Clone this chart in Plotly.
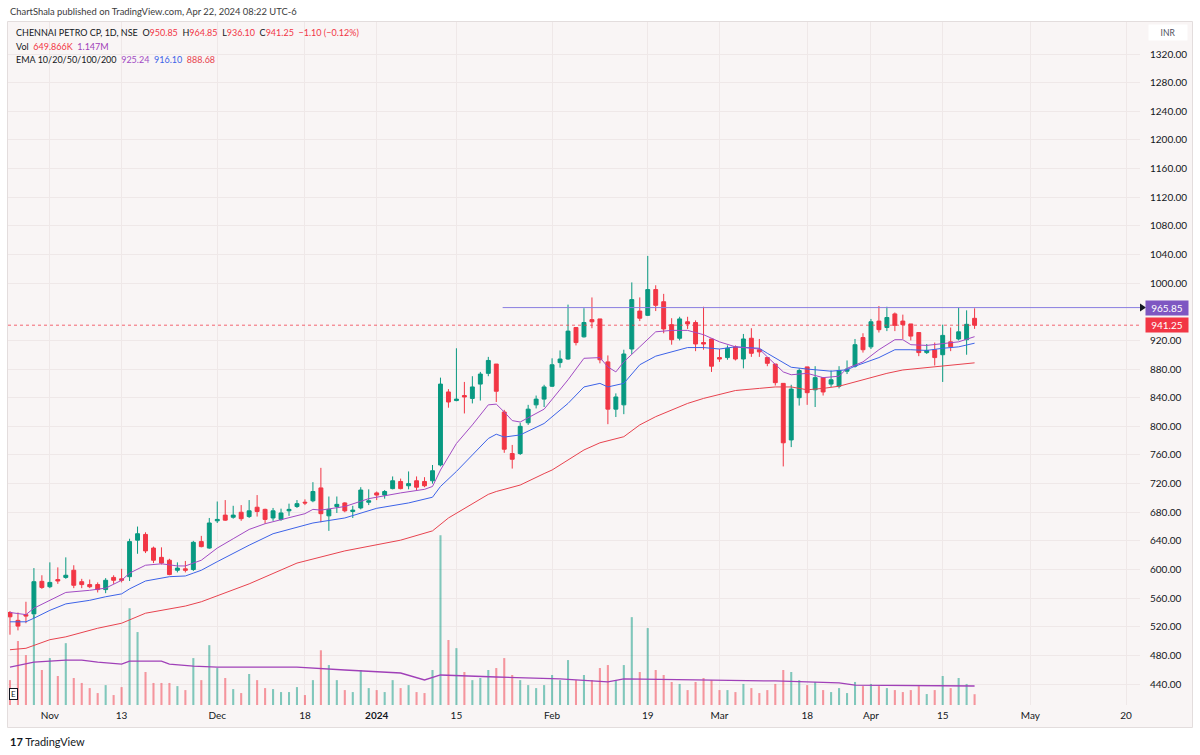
import numpy as np
import pandas as pd
import plotly.graph_objects as go

# ---------------- data ----------------
first_day, last_day = "2023-10-25", "2024-04-22"
holidays = ["2023-11-14", "2023-11-27", "2023-12-25", "2024-01-22", "2024-01-26",
            "2024-03-08", "2024-03-25", "2024-03-29", "2024-04-11", "2024-04-17", "2024-05-01"]
special_sessions = ["2023-11-12", "2024-01-20", "2024-03-02"]

opens = [540, 529, 537, 538, 583.5, 576, 586, 589, 599, 583, 579, 579, 572, 589, 587, 590, 641, 649, 630, 617,
         613, 599, 601, 600, 639, 630, 668, 676, 673, 680, 674, 687, 684, 672, 670, 682, 688, 694, 696, 714,
         675, 688, 693, 681, 686, 694, 707, 704, 713, 723, 717, 724, 723, 724, 746, 848, 836, 843, 839, 859,
         874, 887, 820, 762, 762, 805, 830, 838, 856, 889, 894, 938, 925, 949, 950, 890, 824, 830, 908, 961,
         955, 991, 974, 942, 923, 946, 945, 917, 922, 896, 896, 911, 894, 923, 907, 896, 887, 860, 781, 840,
         883, 851, 868, 859, 856, 877, 884, 924, 911, 947, 938, 957, 947, 943, 931, 903, 907, 900, 918, 922,
         921, 950.85]
highs = [542, 540, 555, 602, 592, 610, 603, 617, 606, 587, 586, 582, 588, 592, 601, 643, 660, 652, 632, 631,
         615, 610, 612, 640, 647, 672, 695, 697, 689, 690, 697, 704, 685, 686, 685, 692, 697, 698, 722, 742,
         702, 702, 694, 689, 715, 712, 709, 711, 730, 727, 737, 730, 729, 746, 868, 852, 909, 862, 870, 876,
         897, 887, 823, 774, 805, 830, 843, 858, 895, 906, 970, 938, 965, 980, 950, 899, 846, 907, 1001, 980,
         1038, 997, 985, 951, 953, 953, 948, 967, 922, 908, 913, 913, 929, 937, 922, 896, 887, 860, 858, 881,
         883, 884, 868, 878, 884, 892, 922, 930, 950, 968, 967, 959, 956, 943, 931, 915, 917, 942, 938, 966,
         962, 964.85]
lows = [509, 515, 525, 532, 573, 574, 580, 587, 574, 574, 574, 568, 567, 580, 582, 584, 622, 623, 609, 607,
        592, 596, 596, 598, 631, 629, 665, 668, 671, 668, 672, 674, 664, 668, 668, 675, 686, 690, 694, 666,
        654, 679, 680, 672, 684, 690, 697, 699, 712, 712, 712, 711, 715, 720, 744, 826, 835, 818, 832, 836,
        870, 834, 763, 741, 760, 802, 825, 827, 855, 882, 893, 913, 924, 937, 888, 803, 813, 817, 901, 947,
        954, 961, 930, 914, 920, 936, 905, 907, 876, 890, 893, 892, 881, 897, 897, 884, 857, 744, 771, 829,
        830, 827, 843, 855, 853, 873, 882, 903, 908, 931, 933, 933, 922, 920, 898, 901, 885, 862, 905, 920,
        900, 936.10]
closes = [534, 521, 535, 583, 575, 582, 584, 592, 578, 579, 576, 572, 585, 585, 585, 639, 650, 626, 613, 609,
          593, 602, 599, 638, 632, 665, 670, 669, 676, 671, 682, 681, 670, 682, 679, 684, 692, 693, 709, 678,
          684, 691, 682, 683, 711, 696, 704, 709, 724, 713, 720, 715, 717, 738, 859, 834, 838, 841, 855, 873,
          892, 849, 768, 754, 800, 824, 838, 855, 886, 894, 933, 917, 945, 946, 893, 824, 841, 901, 977, 951,
          991, 969, 936, 921, 950, 943, 915, 915, 884, 894, 909, 894, 922, 902, 904, 888, 861, 777, 852, 878,
          847, 868, 848, 865, 878, 880, 914, 907, 946, 935, 952, 941, 942, 926, 903, 906, 896, 927, 911, 932,
          942.5, 941.25]
volumes_m = [1.5, 3.86, 3.01, 5.42, 2.11, 2.83, 1.75, 3.73, 1.63, 1.33,
             1.02, 0.72, 1.2, 0.6, 1.08, 5.84, 4.4, 1.99, 1.33, 1.33,
             1.33, 1.14, 0.9, 2.83, 1.5, 3.61, 2.23, 1.63, 0.96, 0.72,
             1.87, 1.5, 1.02, 0.96, 0.78, 0.78, 1.08, 0.6, 1.5, 3.3,
             2.41, 1.5, 0.9, 0.78, 2.11, 1.02, 0.9, 0.78, 1.5, 1.02,
             1.2, 0.78, 0.72, 2.11, 10.24, 3.92, 3.43, 1.99, 1.5, 1.63,
             2.11, 2.23, 2.83, 1.81, 1.5, 1.2, 1.02, 1.2, 1.81, 1.5,
             2.71, 1.5, 1.81, 1.5, 2.23, 2.41, 1.5, 2.41, 5.3, 1.99,
             4.64, 2.11, 1.81, 1.39, 1.27, 0.9, 1.39, 1.63, 1.5, 0.9,
             0.9, 0.78, 1.27, 1.02, 0.72, 0.9, 1.27, 2.11, 1.99, 1.5,
             1.2, 1.39, 0.9, 0.78, 1.02, 0.72, 1.39, 1.14, 1.27, 1.14,
             1.02, 0.9, 0.78, 0.9, 1.14, 0.66, 0.9, 1.75, 1.02, 1.63,
             1.27, 0.65]

# indicator lines (bar number, value)
ema10_bars = [0, 2, 3, 5, 7, 10, 12, 14, 15, 17, 19, 21, 22, 24, 26, 28, 30, 32, 37, 38, 39, 42, 45, 49, 52, 53,
              54, 56, 58, 60, 61, 62, 63, 64, 67, 70, 72, 74, 75, 76, 77, 79, 81, 83, 85, 87, 89, 91, 94, 95,
              97, 98, 100, 102, 104, 105, 107, 109, 111, 112, 113, 115, 117, 119, 121]
ema10_vals = [540, 537, 546, 557, 568, 571, 574, 585, 595, 606, 608, 605, 605, 613, 630, 643, 656, 664, 678, 684,
              683, 688, 699, 707, 712, 716, 739, 776, 802, 830, 831, 820, 808, 806, 824, 865, 895, 896, 883, 876,
              890, 911, 932, 934, 934, 928, 918, 911, 908, 897, 876, 872, 874, 868, 870, 881, 890, 907, 921, 921,
              914, 913, 916, 918, 925.24]
ema20_bars = [0, 2, 3, 5, 7, 10, 12, 14, 15, 17, 20, 22, 23, 24, 26, 28, 30, 33, 38, 42, 46, 50, 53, 54, 56, 58,
              60, 61, 62, 64, 67, 70, 72, 74, 75, 77, 79, 81, 83, 85, 87, 89, 91, 94, 95, 97, 98, 100, 103, 105,
              106, 109, 111, 113, 115, 117, 119, 121]
ema20_vals = [527, 527, 532, 543, 552, 557, 562, 566, 573, 584, 590, 591, 595, 599, 611, 623, 634, 650, 665, 672,
              685.5, 693, 701, 716, 737, 760, 783, 789, 785, 788, 804, 832, 855, 860, 855, 860, 886, 898, 904, 910,
              910, 908, 911, 909, 902, 889, 882.5, 880, 877, 879, 884, 896, 907, 907, 906, 909, 911, 916.10]
ema50_bars = [0, 2, 5, 7, 11, 14, 17, 22, 24, 28, 30, 36, 42, 49, 53, 55, 60, 61, 64, 67, 68, 72, 74, 77, 79, 81,
              83, 85, 87, 89, 91, 94, 96, 98, 100, 102, 104, 106, 108, 110, 112, 114, 116, 118, 121]
ema50_vals = [488, 490, 502, 506, 518, 525, 539, 549, 555, 571, 580, 609, 626, 641, 654, 672, 705, 709, 718, 734,
              739, 767, 777, 785.5, 802, 813.5, 823, 832, 839, 845, 850, 853, 855, 855, 851, 853, 856, 862, 868.5,
              874, 878.7, 881, 883.3, 885.6, 888.68]
vma_bars = [0, 3, 7, 9, 11, 14, 15, 19, 20, 23, 26, 30, 36, 42, 49, 52, 54, 61, 69, 75, 77, 86, 96, 104, 106, 121]
vma_vals = [2.29, 2.59, 2.71, 2.71, 2.59, 2.47, 2.65, 2.65, 2.47, 2.35, 2.29, 2.29, 2.29, 2.11, 1.93, 1.51, 1.81,
            1.69, 1.57, 1.39, 1.57, 1.51, 1.45, 1.33, 1.2, 1.147]

tick_dates = ["2023-11-01", "2023-11-13", "2023-12-01", "2023-12-18", "2024-01-01", "2024-01-15", "2024-02-01",
              "2024-02-19", "2024-03-01", "2024-03-18", "2024-04-01", "2024-04-15", "2024-05-02", "2024-05-20"]
tick_labels = ["Nov", "13", "Dec", "18", "<b>2024</b>", "15", "Feb", "19", "Mar", "18", "Apr", "15", "May", "20"]
price_ticks = [440, 480, 520, 560, 600, 640, 680, 720, 760, 800, 840, 880, 920, 1000, 1040, 1080, 1120,
               1160, 1200, 1240, 1280, 1320]
resistance_level = 965.85
resistance_start_bar = 61.8
last_close = 941.25

# ---------------- derived positions ----------------
days = pd.bdate_range(first_day, last_day)
days = days[~days.isin(pd.to_datetime(holidays))]
days = days.union(pd.to_datetime(special_sessions)).sort_values()
day_str = [d.strftime("%Y-%m-%d") for d in days]
bars = list(range(len(day_str)))
last_bar = bars[-1]


def bar_of(ds):
    if ds in day_str:
        return day_str.index(ds)
    nxt = (pd.Timestamp(last_day) + pd.Timedelta(days=1)).strftime("%Y-%m-%d")
    end = (pd.Timestamp(ds) + pd.Timedelta(days=1)).strftime("%Y-%m-%d")
    return last_bar + int(np.busday_count(nxt, end, holidays=holidays))


tick_vals = [bar_of(d) for d in tick_dates]

GREEN = "#089981"
RED = "#f23645"
PURPLE = "#a24bc4"
BLUE = "#3d63e8"
EMA_RED = "#e8434f"
TXT = "#131722"
BG = "#f9f5f5"
GRID = "#efe8e8"
FONT = "Trebuchet MS, Lato, sans-serif"

vol_colors = ["rgba(8,153,129,0.5)" if c >= o else "rgba(242,54,69,0.5)" for o, c in zip(opens, closes)]

fig = go.Figure()
fig.add_trace(go.Bar(x=bars, y=volumes_m, width=0.26, marker=dict(color=vol_colors, line=dict(width=0)),
                     yaxis="y", hoverinfo="skip"))
fig.add_trace(go.Scatter(x=vma_bars, y=vma_vals, mode="lines", line=dict(color="#a040b8", width=1.3),
                         yaxis="y", hoverinfo="skip"))
fig.add_trace(go.Candlestick(x=bars, open=opens, high=highs, low=lows, close=closes, yaxis="y2",
                             increasing=dict(line=dict(color=GREEN, width=1), fillcolor=GREEN),
                             decreasing=dict(line=dict(color=RED, width=1), fillcolor=RED),
                             whiskerwidth=0))
fig.add_trace(go.Scatter(x=ema50_bars, y=ema50_vals, mode="lines", line=dict(color=EMA_RED, width=1), yaxis="y2"))
fig.add_trace(go.Scatter(x=ema20_bars, y=ema20_vals, mode="lines", line=dict(color=BLUE, width=1), yaxis="y2"))
fig.add_trace(go.Scatter(x=ema10_bars, y=ema10_vals, mode="lines", line=dict(color=PURPLE, width=1), yaxis="y2"))

W, H = 1200, 755
L, R, T, B = 8, 60, 22, 50
pw, ph = W - L - R, H - T - B


def px(x):
    return (x - L) / pw


def py(y):
    return (H - B - y) / ph


fig.update_layout(
    width=W, height=H, autosize=False,
    margin=dict(l=L, r=R, t=T, b=B, pad=0),
    paper_bgcolor="white", plot_bgcolor=BG,
    showlegend=False, boxgap=0.3,
    font=dict(family=FONT, color=TXT, size=10),
    xaxis=dict(range=[-0.25, 141.75], tickvals=tick_vals, ticktext=tick_labels, showgrid=True,
               gridcolor=GRID, gridwidth=1, zeroline=False, showline=False, ticks="",
               ticklabelstandoff=3,
               tickfont=dict(size=10, color=TXT, family=FONT), rangeslider=dict(visible=False),
               fixedrange=True),
    yaxis=dict(range=[0, 41.2], visible=False, fixedrange=True),
    yaxis2=dict(overlaying="y", side="right", range=[410.8, 1364.7], tickvals=price_ticks,
                ticktext=[f"{v:.2f}" for v in price_ticks], showgrid=True, gridcolor=GRID, gridwidth=1,
                zeroline=False, showline=False, ticks="", ticklabelstandoff=9,
                tickfont=dict(size=10, color=TXT, family=FONT), fixedrange=True),
)

tri_h = 4 * (1364.7 - 410.8) / ph
shapes = [
    dict(type="rect", xref="paper", yref="paper", x0=px(7.5), x1=px(1192.5), y0=py(727.5), y1=py(21.5),
         fillcolor=BG, line=dict(color="#e3dddd", width=1), layer="below"),
    dict(type="line", xref="x", yref="y2", x0=resistance_start_bar, x1=141.75, y0=resistance_level,
         y1=resistance_level, line=dict(color="#8a7ee0", width=1)),
    dict(type="line", xref="paper", yref="y2", x0=0, x1=1, y0=last_close, y1=last_close,
         line=dict(color="rgba(242,54,69,0.75)", width=1, dash="dot")),
    dict(type="path", xref="paper", yref="y2",
         path=(f"M {px(1140)},{resistance_level + tri_h} L {px(1146)},{resistance_level} "
               f"L {px(1140)},{resistance_level - tri_h} Z"),
         fillcolor="#131722", line=dict(width=0)),
]
fig.update_layout(shapes=shapes)

red = lambda s: f'<span style="color:{RED}">{s}</span>'
ann = []
ann.append(dict(xref="paper", yref="paper", x=px(8), y=py(12), xanchor="left", yanchor="middle",
                text="ChartShala published on TradingView.com, Apr 22, 2024 08:22 UTC-6",
                showarrow=False, font=dict(size=9.4, color="#3b3b3b", family=FONT)))
line1 = ("CHENNAI PETRO CP, 1D, NSE&nbsp;&nbsp;O" + red(f"{opens[-1]:.2f}") + "&nbsp;&nbsp;H" +
         red(f"{highs[-1]:.2f}") + "&nbsp;&nbsp;L" + red(f"{lows[-1]:.2f}") + "&nbsp;&nbsp;C" +
         red(f"{closes[-1]:.2f}") + "&nbsp;&nbsp;" + red("\u22121.10 (\u22120.12%)"))
line2 = ("Vol&nbsp;&nbsp;" + red("649.866K") + "&nbsp;&nbsp;" +
         f'<span style="color:#a040b8">{vma_vals[-1]:.3f}M</span>')
line3 = ("EMA 10/20/50/100/200&nbsp;&nbsp;" + f'<span style="color:{PURPLE}">{ema10_vals[-1]:.2f}</span>&nbsp;&nbsp;' +
         f'<span style="color:{BLUE}">{ema20_vals[-1]:.2f}</span>&nbsp;&nbsp;' +
         f'<span style="color:{EMA_RED}">{ema50_vals[-1]:.2f}</span>')
for txt, yy in [(line1, 33), (line2, 46), (line3, 59)]:
    ann.append(dict(xref="paper", yref="paper", x=px(14), y=py(yy), xanchor="left", yanchor="middle",
                    text=txt, showarrow=False, font=dict(size=9, color=TXT, family=FONT)))
# price scale labels
ann.append(dict(xref="paper", yref="y2", x=px(1167), y=resistance_level, text=f"{resistance_level:.2f}",
                xanchor="center", yanchor="middle",
                showarrow=False, bgcolor="#7e57c2", font=dict(size=10, color="white", family=FONT),
                width=40, height=12, borderpad=1))
ann.append(dict(xref="paper", yref="y2", x=px(1167), y=last_close, text=f"{last_close:.2f}",
                xanchor="center", yanchor="middle",
                showarrow=False, bgcolor=RED, font=dict(size=10, color="white", family=FONT),
                width=40, height=12, borderpad=1))
ann.append(dict(xref="paper", yref="paper", x=px(1168), y=py(33), text="INR", showarrow=False,
                xanchor="center", yanchor="middle",
                bgcolor="white", font=dict(size=8.5, color="#50535e", family=FONT), width=36, height=13,
                borderpad=1))
ann.append(dict(xref="paper", yref="paper", x=px(13), y=py(694), text="E", showarrow=False,
                xanchor="center", yanchor="middle",
                bgcolor="white", bordercolor="#131722", borderwidth=1, font=dict(size=8, color=TXT),
                width=7, height=10, borderpad=0))
ann.append(dict(xref="paper", yref="paper", x=px(8), y=py(741), xanchor="left", yanchor="middle",
                text="<b>17</b> TradingView", showarrow=False, font=dict(size=11, color="#131722", family=FONT)))
fig.update_layout(annotations=ann)

fig.write_html("out.html")
